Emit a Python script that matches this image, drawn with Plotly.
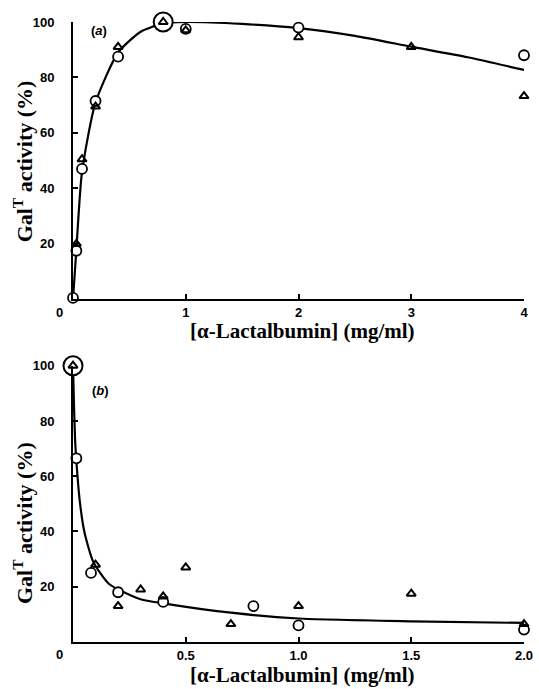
import plotly.graph_objects as go
from plotly.subplots import make_subplots

# ---- panel (a) ----
a_circ_x = [0, 0.03, 0.08, 0.2, 0.4, 1.0, 2.0, 4.0]
a_circ_y = [0.5, 17.5, 47, 71.5, 87.5, 97.5, 98, 88]
a_tri_x = [0.03, 0.08, 0.2, 0.4, 0.8, 1.0, 2.0, 3.0, 4.0]
a_tri_y = [20, 50.5, 69.5, 91, 100, 97, 94.5, 91, 73.3]
a_ref_x = [0.8]
a_ref_y = [100]
a_curve_x = [0, 0.03, 0.08, 0.2, 0.4, 0.6, 0.8, 1.0, 1.5, 2.0, 2.5, 3.0, 3.5, 4.0]
a_curve_y = [0, 18, 46, 71, 89, 96.5, 99.5, 100, 99.3, 97.8, 95, 91.1, 87.3, 82.7]

# ---- panel (b) ----
b_circ_x = [0.015, 0.08, 0.2, 0.4, 0.8, 1.0, 2.0]
b_circ_y = [66.5, 25, 18, 14.5, 13, 6, 4.5]
b_tri_x = [0, 0.1, 0.2, 0.3, 0.4, 0.5, 0.7, 1.0, 1.5, 2.0]
b_tri_y = [100, 28, 13, 19, 16.5, 27, 6.5, 13, 17.5, 6.5]
b_ref_x = [0]
b_ref_y = [100]
b_curve_x = [0, 0.005, 0.01, 0.02, 0.03, 0.05, 0.09, 0.16, 0.3, 0.4, 0.7, 1.0, 1.5, 2.0]
b_curve_y = [100, 84, 72, 60, 51, 40, 29, 21, 15.5, 14, 10.6, 8.5, 7.5, 6.9]

a_xticks = [1, 2, 3, 4]
a_xlabels = ["1", "2", "3", "4"]
b_xticks = [0.5, 1.0, 1.5, 2.0]
b_xlabels = ["0.5", "1.0", "1.5", "2.0"]
yticks = [20, 40, 60, 80, 100]
ylabels = ["20", "40", "60", "80", "100"]
x_title = "[α-Lactalbumin] (mg/ml)"
y_title = "Gal<sup>T</sup> activity (%)"

fig = make_subplots(rows=2, cols=1, vertical_spacing=0.1)

def add_panel(row, cx, cy, tx, ty, rx, ry, lx, ly):
    fig.add_trace(go.Scatter(x=lx, y=ly, mode="lines", line=dict(color="black", width=2.2, shape="spline", smoothing=0.6),
                             showlegend=False, hoverinfo="skip", cliponaxis=False), row=row, col=1)
    fig.add_trace(go.Scatter(x=rx, y=ry, mode="markers", cliponaxis=False,
                             marker=dict(symbol="circle", size=19, color="white", line=dict(color="black", width=2)),
                             showlegend=False), row=row, col=1)
    fig.add_trace(go.Scatter(x=cx, y=cy, mode="markers", cliponaxis=False,
                             marker=dict(symbol="circle", size=10, color="white", line=dict(color="black", width=1.8)),
                             showlegend=False), row=row, col=1)
    fig.add_trace(go.Scatter(x=tx, y=ty, mode="markers", cliponaxis=False,
                             marker=dict(symbol="triangle-up-open", size=8, color="black", line=dict(color="black", width=2)),
                             showlegend=False), row=row, col=1)

add_panel(1, a_circ_x, a_circ_y, a_tri_x, a_tri_y, a_ref_x, a_ref_y, a_curve_x, a_curve_y)
add_panel(2, b_circ_x, b_circ_y, b_tri_x, b_tri_y, b_ref_x, b_ref_y, b_curve_x, b_curve_y)

tickfont = dict(family="Liberation Sans", size=13, color="black", weight="bold")
xtitlefont = dict(family="Liberation Serif", size=21, color="black", weight="bold")
ytitlefont = dict(family="Liberation Serif", size=22, color="black", weight="bold")

common_x = dict(showline=True, linecolor="black", linewidth=2, ticks="inside", ticklen=5, tickwidth=2,
                tickcolor="black", showgrid=False, zeroline=False, tickfont=tickfont, automargin=False,
                domain=[0, 1])
common_y = dict(showline=True, linecolor="black", linewidth=2, ticks="inside", ticklen=5, tickwidth=2,
                tickcolor="black", showgrid=False, zeroline=False, tickfont=tickfont, automargin=False,
                tickvals=yticks, ticktext=ylabels, range=[0, 100], ticklabelstandoff=14)

fig.update_xaxes(common_x, range=[0, 4], tickvals=a_xticks, ticktext=a_xlabels, row=1, col=1)
fig.update_xaxes(common_x, range=[0, 2], tickvals=b_xticks, ticktext=b_xlabels, row=2, col=1)
fig.update_yaxes(common_y, domain=[0.5528, 1.0], row=1, col=1)
fig.update_yaxes(common_y, domain=[0.0, 0.4456], row=2, col=1)

# axis titles
fig.add_annotation(x=0.508, y=0.502, xref="paper", yref="paper", text=x_title, showarrow=False,
                   xanchor="center", yanchor="middle", font=xtitlefont)
fig.add_annotation(x=0.508, y=-0.054, xref="paper", yref="paper", text=x_title, showarrow=False,
                   xanchor="center", yanchor="middle", font=xtitlefont)
fig.add_annotation(x=-0.112, y=0.776, xref="paper", yref="paper", text=y_title, showarrow=False,
                   textangle=-90, xanchor="center", yanchor="middle", font=ytitlefont)
fig.add_annotation(x=-0.112, y=0.1926, xref="paper", yref="paper", text=y_title, showarrow=False,
                   textangle=-90, xanchor="center", yanchor="middle", font=ytitlefont)

fig.add_annotation(x=0, y=0, xref="x", yref="y", text="0", showarrow=False, xshift=-14, yshift=-13, font=tickfont)
fig.add_annotation(x=0, y=0, xref="x2", yref="y2", text="0", showarrow=False, xshift=-14, yshift=-13, font=tickfont)
fig.add_annotation(x=0.227, y=97, xref="x", yref="y", text="(<i>a</i>)", showarrow=False,
                   font=dict(family="Liberation Sans", size=13, color="black", weight="bold"))
fig.add_annotation(x=0.12, y=91, xref="x2", yref="y2", text="(<i>b</i>)", showarrow=False,
                   font=dict(family="Liberation Sans", size=13, color="black", weight="bold"))

fig.update_layout(width=539, height=689, autosize=False, margin=dict(l=73, r=15, t=22, b=46.5),
                  plot_bgcolor="white", paper_bgcolor="white", showlegend=False)

fig.write_html("out.html")
